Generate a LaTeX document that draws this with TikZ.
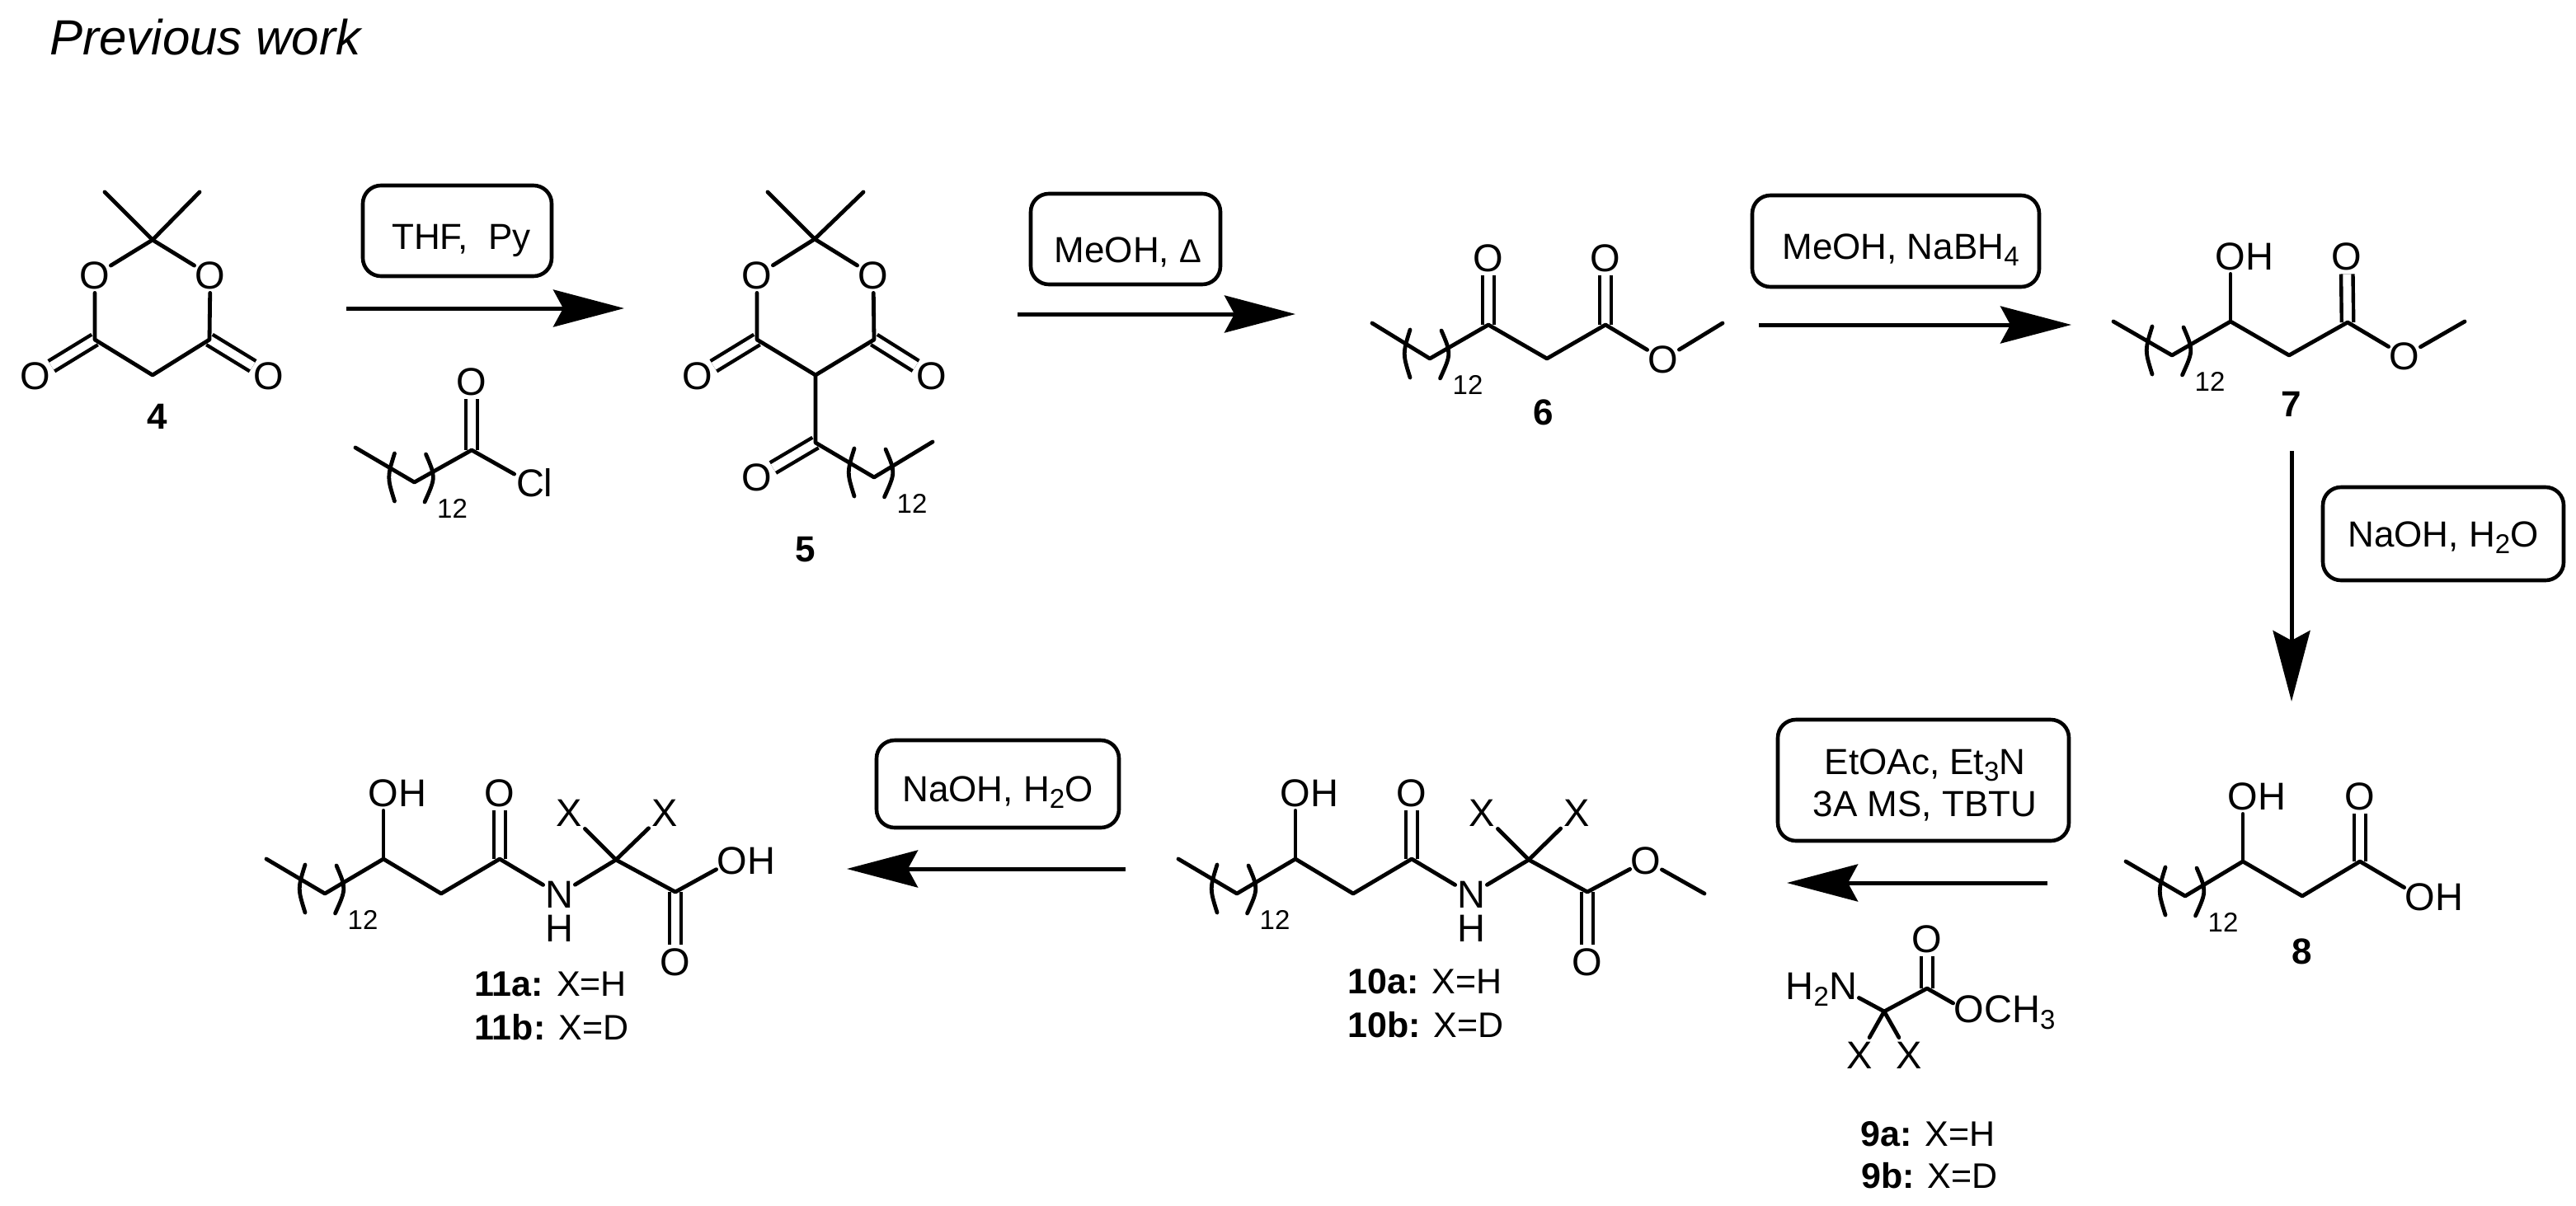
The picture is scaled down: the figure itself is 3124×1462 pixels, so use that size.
\documentclass[tikz,border=0pt]{standalone}
\usepackage{fontspec}
\setmainfont{Liberation Sans}
\usetikzlibrary{calc,arrows.meta}
\newcommand\chemsub[1]{\raisebox{-4pt}{\fontsize{16.5}{16.5}\selectfont #1}}
\newcommand\offtext[3]{\smash{\makebox[0pt]{\hspace*{#1}\raisebox{#2}{#3}}}}
\newcommand\repunit[2]{%
  \draw[bond] ($(#1)+(-24,-35)$) .. controls ($(#1)+(-33,-6)$) .. ($(#1)+(-24,23)$);
  \draw[bond] ($(#1)+(14,-34)$) .. controls ($(#1)+(26,-6)$) .. ($(#1)+(12.5,24)$);
  \node[repcount] (#2) at ($(#1)+(46,32)$) {12};}
\tikzset{
  bond/.style={line width=2.4pt,line cap=round,line join=round},
  dblbond/.style={line width=2.2pt,double,double distance=5pt},
  atom/.style={inner sep=0pt,minimum width=19pt,minimum height=21pt,font=\fontsize{23.5}{23.5}\selectfont},
  repcount/.style={inner sep=0pt,font=\fontsize{16.5}{16.5}\selectfont},
  cpd/.style={inner sep=0pt,font=\fontsize{22}{22}\selectfont\bfseries},
  cpdlabel/.style={inner sep=0pt,anchor=base west,font=\fontsize{21.5}{21.5}\selectfont},
  rxnbox/.style={draw,line width=2.3pt,rounded corners=11pt,inner sep=0pt,font=\fontsize{22}{25.5}\selectfont},
  rxnarrow/.style={line width=2.5pt,-{Stealth[length=43pt,width=22.5pt,inset=6pt]}},
  heading/.style={inner sep=0pt,anchor=base west,font=\fontsize{30}{30}\selectfont\itshape}
}
\begin{document}
\begin{tikzpicture}[x=.5pt,y=-.5pt]
\useasboundingbox (0,0) rectangle (3124,1462);
\node[heading] (title) at (60,66) {Previous work};

% ---- compound 4
\coordinate (a1) at (185,291);
\coordinate (a2) at (127,233);
\coordinate (a3) at (242,233);
\coordinate (a4) at (115,412);
\coordinate (a5) at (254,412);
\coordinate (a6) at (185,455);
\node[atom] (aO1) at (115,334) {O};
\node[atom] (aO2) at (255,334) {O};
\node[atom] (aO3) at (43,456) {O};
\node[atom] (aO4) at (326,456) {O};
\node[cpd] (n4) at (191,505) {4};
\draw[dblbond] (a4) -- (aO3);
\draw[dblbond] (a5) -- (aO4);
\draw[bond] (a2) -- (a1) -- (a3);
\draw[bond] (aO1) -- (a1) -- (aO2);
\draw[bond] (aO1) -- (a4) -- (a6) -- (a5) -- (aO2);

% ---- acyl chloride
\coordinate (r1) at (431,543);
\coordinate (r2) at (502.5,585);
\coordinate (r3) at (572,546);
\node[atom] (rO) at (572,463) {O};
\node[atom] (rCl) at (643,586) {C\rlap{l}};
\draw[dblbond] (r3) -- (rO);
\draw[bond] (r1) -- (r2) -- (r3) -- (rCl);
\repunit{r2}{r12}

% ---- compound 5
\coordinate (b1) at (988,290);
\coordinate (b2) at (931,233);
\coordinate (b3) at (1047,233);
\coordinate (b4) at (918,412);
\coordinate (b5) at (1060,412);
\coordinate (b6) at (989,455);
\coordinate (b7) at (989,537);
\coordinate (b8) at (1060,579);
\coordinate (b9) at (1131,536);
\node[atom] (bO1) at (918,334) {O};
\node[atom] (bO2) at (1059,334) {O};
\node[atom] (bO3) at (846,456) {O};
\node[atom] (bO4) at (1130,456) {O};
\node[atom] (bO5) at (918,579) {O};
\node[cpd] (n5) at (977,667) {5};
\draw[dblbond] (b4) -- (bO3);
\draw[dblbond] (b5) -- (bO4);
\draw[dblbond] (b7) -- (bO5);
\draw[bond] (b2) -- (b1) -- (b3);
\draw[bond] (bO1) -- (b1) -- (bO2);
\draw[bond] (bO1) -- (b4) -- (b6) -- (b5) -- (bO2);
\draw[bond] (b6) -- (b7) -- (b8) -- (b9);
\repunit{b8}{b12}

% ---- compound 6
\coordinate (c1) at (1664,392);
\coordinate (c2) at (1734,435);
\coordinate (c3) at (1805,394);
\coordinate (c4) at (1876,435);
\coordinate (c5) at (1947,394);
\coordinate (c6) at (2089,392);
\node[atom] (cO1) at (1805,313) {O};
\node[atom] (cO2) at (1947,313) {O};
\node[atom] (cO3) at (2017,436) {O};
\node[cpd] (n6) at (1872,500) {6};
\draw[dblbond] (c3) -- (cO1);
\draw[dblbond] (c5) -- (cO2);
\draw[bond] (c1) -- (c2) -- (c3) -- (c4) -- (c5) -- (cO3) -- (c6);
\repunit{c2}{c12}

% ---- compound 7
\coordinate (d1) at (2563,390);
\coordinate (d2) at (2634,431);
\coordinate (d3) at (2705,390);
\coordinate (d4) at (2776,431);
\coordinate (d5) at (2847,391);
\coordinate (d6) at (2989,390);
\node[atom] (dOH) at (2705,311) {O\rlap{H}};
\node[atom] (dO2) at (2846,311) {O};
\node[atom] (dO3) at (2916,432) {O};
\node[cpd] (n7) at (2779,490) {7};
\draw[dblbond] (d5) -- (dO2);
\draw[bond] (d1) -- (d2) -- (d3) -- (d4) -- (d5) -- (dO3) -- (d6);
\draw[bond] (d3) -- (dOH);
\repunit{d2}{d12}

% ---- compound 8
\coordinate (e1) at (2578,1045);
\coordinate (e2) at (2650,1087);
\coordinate (e3) at (2720,1045);
\coordinate (e4) at (2792,1087);
\coordinate (e5) at (2862,1045);
\node[atom] (eOH1) at (2720,966) {O\rlap{H}};
\node[atom] (eO) at (2862,966) {O};
\node[atom] (eOH2) at (2935,1088) {O\rlap{H}};
\node[cpd] (n8) at (2792,1154) {8};
\draw[dblbond] (e5) -- (eO);
\draw[bond] (e1) -- (e2) -- (e3) -- (e4) -- (e5) -- (eOH2);
\draw[bond] (e3) -- (eOH1);
\repunit{e2}{e12}

% ---- compound 9
\coordinate (f1) at (2285,1227);
\coordinate (f2) at (2337,1199);
\node[atom] (fN) at (2235,1200) {\llap{H\chemsub{2}}N};
\node[atom] (fO1) at (2337,1139) {O};
\node[atom] (fO2) at (2388,1228) {O\rlap{CH\chemsub{3}}};
\node[atom] (fX1) at (2255,1280) {X};
\node[atom] (fX2) at (2315,1280) {X};
\node[cpdlabel] (l9a) at (2256,1390) {\textbf{9a:} X=H};
\node[cpdlabel] (l9b) at (2257,1441) {\textbf{9b:} X=D};
\draw[dblbond] (f2) -- (fO1);
\draw[bond] (fN) -- (f1) -- (f2) -- (fO2);
\draw[bond] (fX1) -- (f1) -- (fX2);

% ---- compound 10
\coordinate (g1) at (1429,1042);
\coordinate (g2) at (1500,1084);
\coordinate (g3) at (1571,1042);
\coordinate (g4) at (1641,1084);
\coordinate (g5) at (1712,1042);
\coordinate (g6) at (1854,1043);
\coordinate (g7) at (1925,1082);
\coordinate (g8) at (2067,1084);
\node[atom] (gOH) at (1571,962) {O\rlap{H}};
\node[atom] (gO1) at (1712,962) {O};
\node[atom] (gN) at (1784,1085) {N};
\node[atom] (gH) at (1784,1126) {H};
\node[atom] (gX1) at (1797,986) {X};
\node[atom] (gX2) at (1912,986) {X};
\node[atom] (gO2) at (1925,1167) {O};
\node[atom] (gO3) at (1996,1044) {O};
\node[cpdlabel] (l10a) at (1634,1205) {\textbf{10a:} X=H};
\node[cpdlabel] (l10b) at (1634,1258) {\textbf{10b:} X=D};
\draw[dblbond] (g5) -- (gO1);
\draw[dblbond] (g7) -- (gO2);
\draw[bond] (g1) -- (g2) -- (g3) -- (g4) -- (g5) -- (gN) -- (g6) -- (g7) -- (gO3) -- (g8);
\draw[bond] (g3) -- (gOH);
\draw[bond] (gX1) -- (g6) -- (gX2);
\repunit{g2}{g12}

% ---- compound 11
\coordinate (h1) at (323,1042);
\coordinate (h2) at (394,1084);
\coordinate (h3) at (465,1042);
\coordinate (h4) at (535,1084);
\coordinate (h5) at (606,1042);
\coordinate (h6) at (747,1043);
\coordinate (h7) at (819,1082);
\node[atom] (hOH1) at (465,962) {O\rlap{H}};
\node[atom] (hO1) at (606,962) {O};
\node[atom] (hN) at (678,1085) {N};
\node[atom] (hH) at (678,1126) {H};
\node[atom] (hX1) at (690,986) {X};
\node[atom] (hX2) at (806,986) {X};
\node[atom] (hO2) at (819,1167) {O};
\node[atom] (hOH2) at (888,1044) {O\rlap{H}};
\node[cpdlabel] (l11a) at (575,1208) {\textbf{11a:} X=H};
\node[cpdlabel] (l11b) at (575,1261) {\textbf{11b:} X=D};
\draw[dblbond] (h5) -- (hO1);
\draw[dblbond] (h7) -- (hO2);
\draw[bond] (h1) -- (h2) -- (h3) -- (h4) -- (h5) -- (hN) -- (h6) -- (h7) -- (hOH2);
\draw[bond] (h3) -- (hOH1);
\draw[bond] (hX1) -- (h6) -- (hX2);
\repunit{h2}{h12}

% ---- reagent boxes
\node[rxnbox,minimum width=114.5pt,minimum height=55pt] (box1) at (554.5,280)
  {\offtext{5pt}{-11pt}{THF,\ \ Py}};
\node[rxnbox,minimum width=115pt,minimum height=55pt] (box2) at (1365,290)
  {\offtext{3pt}{-14pt}{MeOH,\ {\fontsize{20}{20}\selectfont Δ}}};
\node[rxnbox,minimum width=174pt,minimum height=55.5pt] (box3) at (2299,292.5)
  {\offtext{6pt}{-11pt}{MeOH, NaBH\chemsub{4}}};
\node[rxnbox,minimum width=146pt,minimum height=56.5pt] (box4) at (2963,647.5)
  {\offtext{0pt}{-8pt}{NaOH, H\chemsub{2}O}};
\node[rxnbox,minimum width=176.5pt,minimum height=73.5pt] (box5) at (2332.5,946.5)
  {\offtext{2pt}{-21.75pt}{\begin{tabular}[b]{@{}c@{}}EtOAc, Et\chemsub{3}N\\3A MS, TBTU\end{tabular}}};
\node[rxnbox,minimum width=147pt,minimum height=53pt] (box6) at (1210,951)
  {\offtext{0pt}{-10.5pt}{NaOH, H\chemsub{2}O}};

% ---- reaction arrows
\coordinate (s1) at (420,374);   \coordinate (t1) at (757,374);
\coordinate (s2) at (1234,381);  \coordinate (t2) at (1571,381);
\coordinate (s3) at (2133,394);  \coordinate (t3) at (2512,394);
\coordinate (s4) at (2779,547);  \coordinate (t4) at (2779,851);
\coordinate (s5) at (2483,1071); \coordinate (t5) at (2167,1071);
\coordinate (s6) at (1365,1054); \coordinate (t6) at (1027,1054);
\draw[rxnarrow] (s1) -- (t1);
\draw[rxnarrow] (s2) -- (t2);
\draw[rxnarrow] (s3) -- (t3);
\draw[rxnarrow] (s4) -- (t4);
\draw[rxnarrow] (s5) -- (t5);
\draw[rxnarrow] (s6) -- (t6);
\end{tikzpicture}
\end{document}
